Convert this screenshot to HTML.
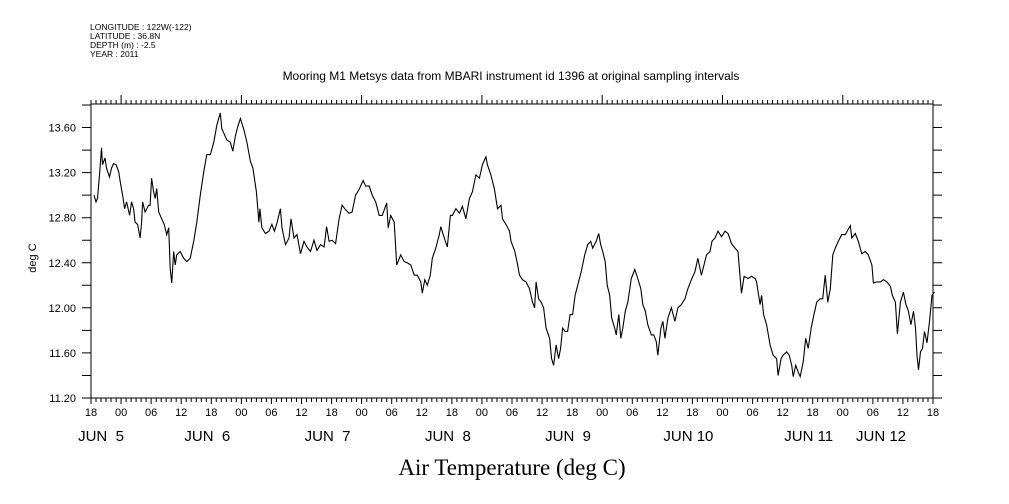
<!DOCTYPE html>
<html><head><meta charset="utf-8"><style>
html,body{margin:0;padding:0;background:#fff;width:1009px;height:504px;overflow:hidden}
svg{display:block}
text{font-family:"Liberation Sans",sans-serif;fill:#000}
</style></head><body>
<svg id="chart" width="1009" height="504" viewBox="0 0 1009 504" xmlns="http://www.w3.org/2000/svg">
<g font-size="8.5">
<text x="90" y="30">LONGITUDE : 122W(-122)</text>
<text x="90" y="39">LATITUDE : 36.8N</text>
<text x="90" y="48">DEPTH (m) : -2.5</text>
<text x="90" y="57">YEAR : 2011</text>
</g>
<text x="511" y="80" text-anchor="middle" font-size="12">Mooring M1 Metsys data from MBARI instrument id 1396 at original sampling intervals</text>
<text x="36" y="258" text-anchor="middle" font-size="11" transform="rotate(-90 36 258)">deg C</text>
<text x="512" y="475" text-anchor="middle" font-size="23" style="font-family:'Liberation Serif',serif">Air Temperature (deg C)</text>
<rect x="91" y="104" width="842" height="294" fill="none" stroke="#000" stroke-width="1"/>
<g id="axes"></g>
<g id="series"></g>
</svg>
<script>
const hours = [0.6,1.0,1.3,1.7,2.1,2.3,2.8,3.1,3.7,4.1,4.5,5.0,5.5,5.9,6.3,6.7,7.1,7.7,8.1,8.5,8.8,9.3,9.8,10.1,10.3,10.8,11.5,11.8,12.1,12.5,12.8,13.1,13.5,14.1,14.6,15.1,15.5,15.8,16.1,16.5,16.8,17.1,17.8,18.5,19.1,19.8,20.5,21.1,21.8,22.5,23.1,23.8,24.5,25.1,25.8,26.1,26.5,27.1,27.8,28.3,28.8,29.3,29.8,30.5,31.1,31.8,32.3,33.0,33.5,33.7,34.1,34.8,35.5,36.1,36.6,37.1,37.8,38.1,38.8,39.5,39.9,40.5,41.1,41.8,42.5,43.1,43.8,44.5,45.1,45.8,46.5,47.0,47.5,48.1,48.8,49.5,50.1,50.8,51.5,52.1,52.8,53.5,54.3,54.8,55.5,56.1,56.8,57.5,58.1,59.0,59.3,59.8,60.5,61.0,61.8,62.5,63.1,63.8,64.5,65.1,65.8,66.1,66.6,67.1,67.7,68.1,68.8,69.5,69.8,70.5,71.1,71.7,72.1,72.8,73.5,74.1,74.8,75.5,76.1,76.8,77.5,78.1,78.8,79.1,79.8,80.5,81.1,81.8,82.1,82.8,83.5,83.8,
84.5,85.0,85.5,86.1,86.8,87.5,88.1,88.5,88.8,89.3,89.8,90.3,90.8,91.5,91.9,92.3,92.8,93.3,93.7,94.1,94.6,95.1,95.6,96.1,96.6,97.1,97.8,98.5,99.1,99.7,100.1,100.8,101.3,101.7,102.1,102.6,103.0,103.5,103.9,104.5,104.8,105.3,105.7,106.1,106.6,107.1,107.8,108.5,109.1,109.7,110.1,110.6,111.1,111.8,112.3,112.8,113.1,113.7,114.1,114.5,115.1,115.8,116.5,117.1,117.8,118.5,119.1,119.8,120.5,121.1,121.8,122.3,122.8,123.5,123.9,124.5,125.1,125.8,126.5,127.1,127.8,128.5,129.1,129.6,129.8,130.3,131.1,131.8,132.5,132.8,133.1,133.5,133.8,134.2,134.8,135.5,136.1,136.8,137.1,137.7,138.1,138.8,139.3,139.8,140.1,140.6,141.1,141.5,142.1,142.6,143.1,143.7,144.1,144.8,145.5,146.0,146.5,147.0,147.5,148.0,148.5,149.1,149.8,150.5,151.5,151.8,152.5,153.1,153.8,154.5,155.1,155.8,156.1,156.8,157.5,158.1,158.8,159.5,159.9,160.5,160.9,161.5,162.1,162.6,163.1,163.6,164.1,164.5,164.8,165.1,165.5,165.9,166.3,166.8,167.3,167.8,168.3];
const temps = [13.00,12.94,12.97,13.18,13.42,13.27,13.33,13.24,13.16,13.24,13.28,13.27,13.21,13.10,13.00,12.88,12.94,12.82,12.94,12.88,12.76,12.74,12.62,12.76,12.94,12.85,12.91,12.91,13.15,13.03,12.97,13.06,12.85,12.79,12.74,12.65,12.71,12.35,12.22,12.50,12.38,12.47,12.50,12.44,12.41,12.44,12.59,12.76,13.00,13.21,13.36,13.36,13.47,13.62,13.73,13.59,13.55,13.49,13.47,13.39,13.52,13.61,13.68,13.58,13.47,13.30,13.24,13.03,12.76,12.88,12.71,12.66,12.68,12.74,12.68,12.75,12.88,12.71,12.56,12.62,12.79,12.62,12.65,12.48,12.59,12.54,12.50,12.60,12.51,12.56,12.54,12.72,12.59,12.60,12.57,12.79,12.91,12.87,12.84,12.85,13.00,13.05,13.13,13.08,13.08,13.00,12.94,12.82,12.82,12.93,12.71,12.82,12.76,12.38,12.47,12.41,12.40,12.38,12.29,12.29,12.23,12.13,12.25,12.20,12.29,12.44,12.53,12.65,12.72,12.62,12.54,12.82,12.82,12.88,12.84,12.90,12.79,12.97,13.03,13.18,13.15,13.27,13.34,13.27,13.18,13.05,12.88,12.91,12.79,12.74,12.68,12.59,
12.51,12.41,12.29,12.25,12.23,12.17,12.05,12.00,12.23,12.08,12.05,12.00,11.82,11.73,11.55,11.49,11.67,11.55,11.64,11.82,11.79,11.79,11.94,11.94,12.11,12.20,12.32,12.47,12.56,12.59,12.53,12.59,12.66,12.56,12.50,12.41,12.20,12.11,11.91,11.82,11.76,11.94,11.73,11.82,11.97,12.05,12.26,12.34,12.26,12.17,12.03,11.97,11.85,11.76,11.76,11.70,11.58,11.82,11.88,11.73,11.91,12.00,11.88,12.00,12.03,12.08,12.17,12.25,12.32,12.44,12.29,12.38,12.47,12.50,12.59,12.62,12.68,12.63,12.68,12.66,12.57,12.53,12.50,12.23,12.13,12.28,12.26,12.28,12.26,12.23,12.14,12.03,12.11,11.94,11.85,11.67,11.58,11.55,11.40,11.55,11.58,11.61,11.58,11.49,11.39,11.49,11.43,11.39,11.52,11.73,11.64,11.82,11.91,12.05,12.08,12.08,12.29,12.05,12.17,12.47,12.53,12.59,12.65,12.65,12.73,12.62,12.66,12.59,12.48,12.50,12.47,12.38,12.22,12.23,12.23,12.25,12.23,12.19,12.11,12.05,11.77,12.05,12.14,12.03,11.97,11.85,11.97,11.82,11.58,11.45,11.61,11.64,11.79,11.69,11.88,12.11,12.14];
const yTickLabels = ["11.20","11.60","12.00","12.40","12.80","13.20","13.60"];
const hourLabels = ["18","00","06","12"];
const dateLabels = ["JUN  5","JUN  6","JUN  7","JUN  8","JUN  9","JUN 10","JUN 11","JUN 12"];

const X0=91, X1=933, Y0=398, Y1=104, TMAX=168, VMIN=11.2, VMAX=11.2+294/112.7;
const xs = t => X0 + t*(X1-X0)/TMAX;
const ys = v => Y0 - (v-VMIN)*(Y0-Y1)/(VMAX-VMIN);
const NS="http://www.w3.org/2000/svg";
const axes=document.getElementById('axes');
function mk(tag, attrs, parent){const e=document.createElementNS(NS,tag);for(const k in attrs)e.setAttribute(k,attrs[k]);parent.appendChild(e);return e;}
let tk='';
for(let h=0;h<=TMAX;h++){
  const x=xs(h).toFixed(1);
  const clock=(18+h)%24;
  tk+=`M${x} ${Y0}V${Y0+(clock%6===0?6:4)}`;
  tk+=`M${x} ${Y1}V${Y1-(clock===0?9:4)}`;
}
for(let i=0;i<=13;i++){
  const v=11.2+i*0.2; if(v>VMAX) break;
  const y=ys(v).toFixed(1);
  tk+=`M${X0} ${y}H${X0-9}M${X1} ${y}H${X1+9}`;
}
const tickPath=mk('path',{d:tk,stroke:'#000','stroke-width':1,fill:'none'},axes);


yTickLabels.forEach(s=>{
  const t=mk('text',{x:76,y:(ys(parseFloat(s))+4).toFixed(1),'text-anchor':'end','font-size':11},axes);
  t.textContent=s;
  
  
});
for(let h=0;h<=TMAX;h+=6){
  const t=mk('text',{x:xs(h).toFixed(1),y:416,'text-anchor':'middle','font-size':11},axes);
  t.textContent=hourLabels[(h/6)%4];
  
  
}
dateLabels.forEach((s,i)=>{
  let cx;
  if(i===0) cx=101; else if(i===dateLabels.length-1) cx=881; else cx=xs(6+24*(i-1)+18)-4;
  const t=mk('text',{x:cx.toFixed(1),y:441,'text-anchor':'middle','font-size':15,'xml:space':'preserve'},axes);
  t.setAttribute('style','white-space:pre');
  t.textContent=s;
  
  
});
let d='';
hours.forEach((h,i)=>{d+=(i?'L':'M')+xs(h).toFixed(1)+' '+ys(temps[i]).toFixed(1);});
const line=mk('path',{d:d,stroke:'#000','stroke-width':1.1,fill:'none'},document.getElementById('series'));


</script>
</body></html>
